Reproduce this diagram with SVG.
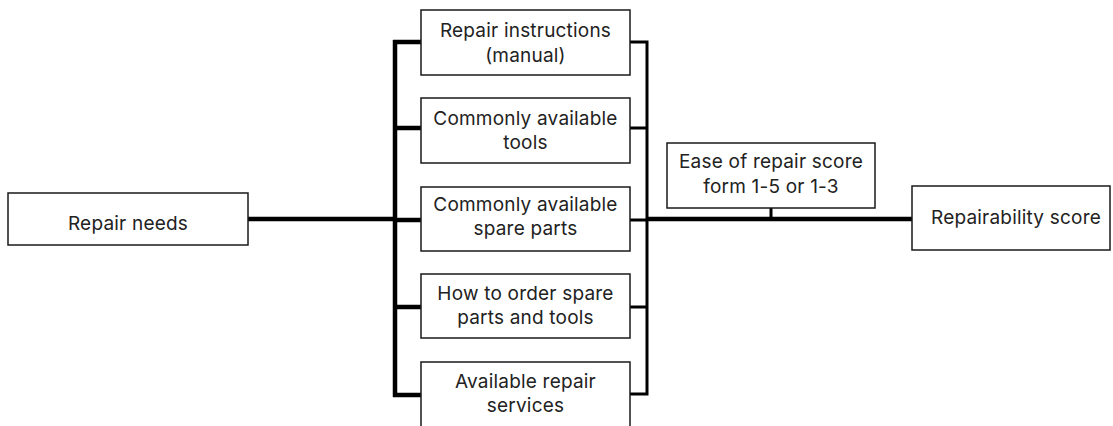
<svg xmlns="http://www.w3.org/2000/svg" width="1113" height="426" viewBox="0 0 1113 426">
<style>
.box{fill:#fff;stroke:#1a1a1a;stroke-width:1.5}
.t{font-family:Inter,"Liberation Sans",sans-serif;font-size:19px;letter-spacing:0.2px;fill:#222;text-anchor:middle}
.thick{stroke:#000;stroke-width:4.5;fill:none}
.med{stroke:#000;stroke-width:3;fill:none}
</style>
<rect width="1113" height="426" fill="#fff"/>
<g id="connectors">
<path class="thick" d="M248 219H395M395 40V397M393 42H421M393 128H421M393 220H421M393 307H421M393 395H421"/>
<path class="med" d="M647 41V395M630 42H648.5M630 128H648.5M630 220H648.5M630 307H648.5M630 394H648.5"/>
<path class="thick" d="M647 219H913"/>
<path class="med" d="M771 208V219"/>
</g>
<g id="repair-needs"><rect class="box" x="8" y="193" width="240" height="52"/><text class="t" x="128" y="230">Repair needs</text></g>
<g id="instructions"><rect class="box" x="421" y="10" width="209" height="65"/><text class="t" x="525.5" y="37">Repair instructions</text><text class="t" x="525.5" y="62">(manual)</text></g>
<g id="tools"><rect class="box" x="421" y="98" width="209" height="65"/><text class="t" x="525.5" y="125">Commonly available</text><text class="t" x="525.5" y="149">tools</text></g>
<g id="spare-parts"><rect class="box" x="421" y="187" width="209" height="64"/><text class="t" x="525.5" y="211">Commonly available</text><text class="t" x="525.5" y="235">spare parts</text></g>
<g id="order"><rect class="box" x="421" y="274" width="209" height="64"/><text class="t" x="525.5" y="300">How to order spare</text><text class="t" x="525.5" y="324">parts and tools</text></g>
<g id="services"><rect class="box" x="421" y="362" width="209" height="70"/><text class="t" x="525.5" y="388">Available repair</text><text class="t" x="525.5" y="412">services</text></g>
<g id="ease"><rect class="box" x="667" y="143" width="208" height="65"/><text class="t" x="771" y="168">Ease of repair score</text><text class="t" x="771" y="193">form 1-5 or 1-3</text></g>
<g id="repairability"><rect class="box" x="912" y="186" width="198" height="64"/><text class="t" x="1016" y="224">Repairability score</text></g>
</svg>
